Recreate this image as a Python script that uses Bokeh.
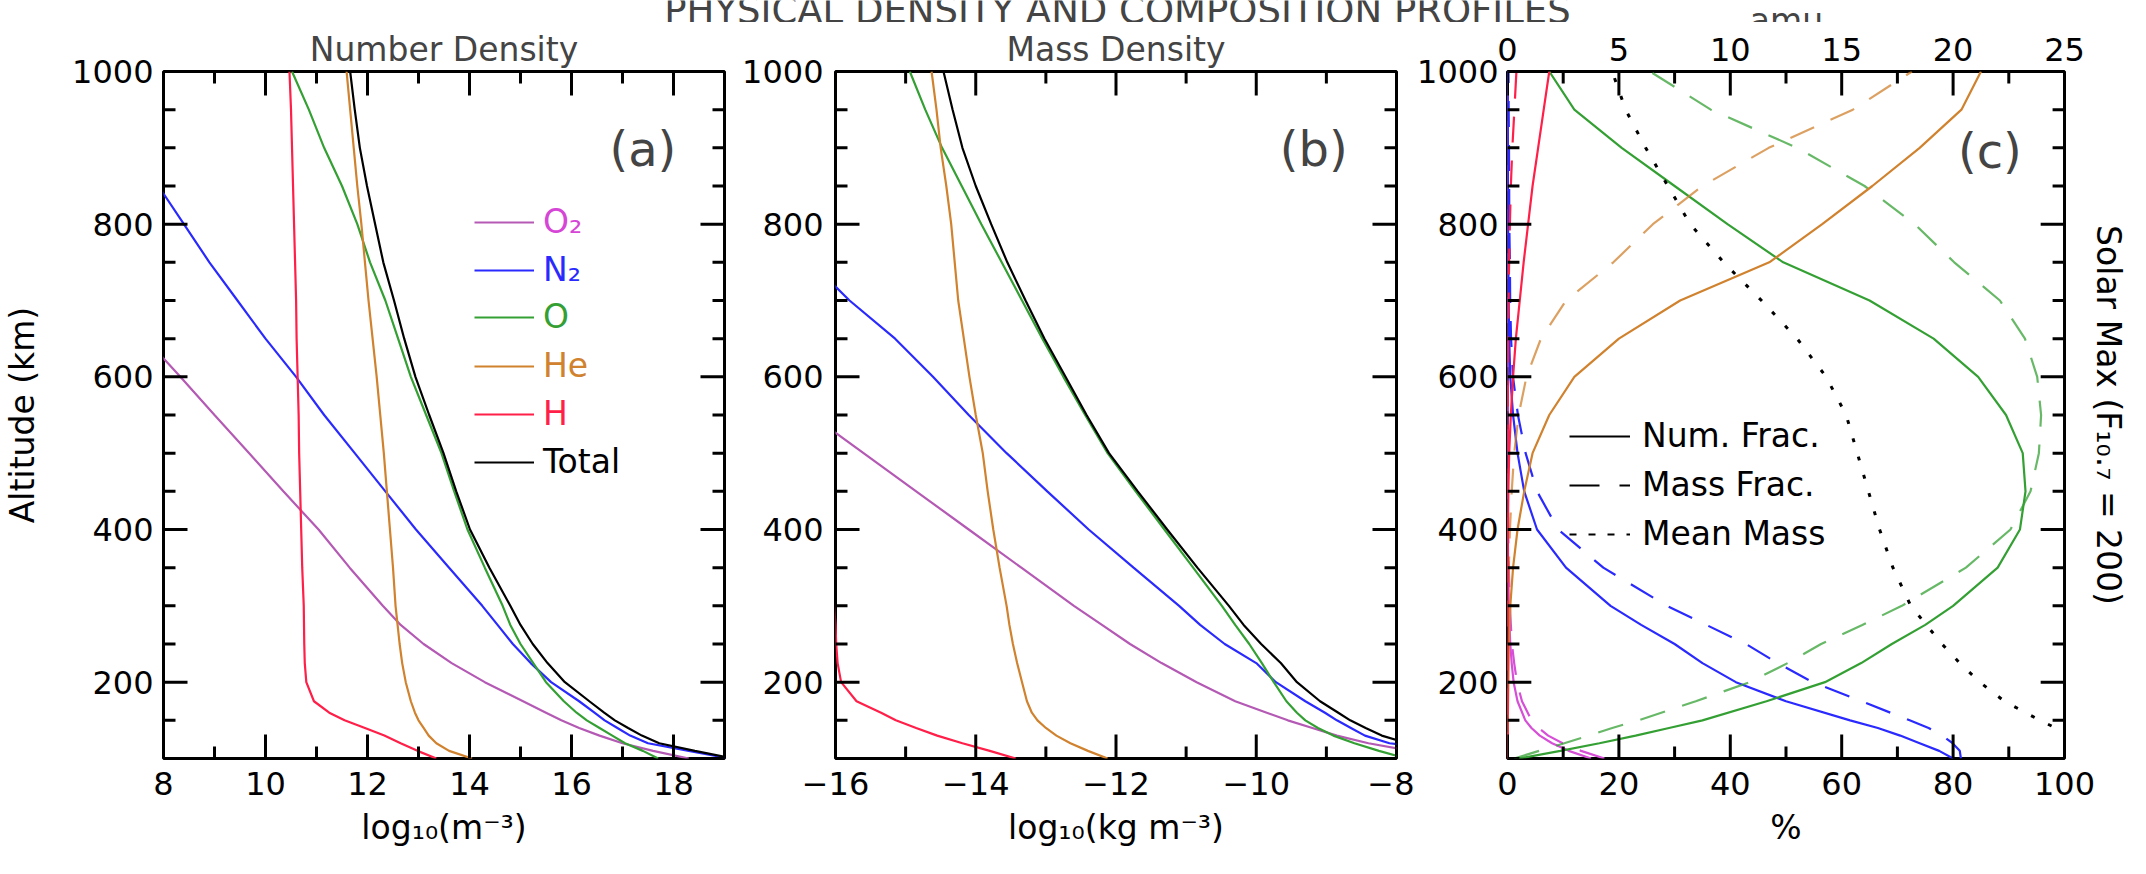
from bokeh.plotting import figure
from bokeh.models import Range1d, LinearAxis, FixedTicker, Legend, LegendItem, Label
from bokeh.layouts import column, row
from bokeh.embed import file_html
from bokeh.resources import INLINE

FONT = "DejaVu Sans"
FS = "33px"        # titles, axis labels, legend
FS_TICK = "32px"   # tick labels

# ---------------- data ----------------
alt_ab = [100, 110, 120, 130, 140, 150, 160, 175, 200, 225, 250, 275, 300, 350, 400,
          450, 500, 550, 600, 650, 700, 750, 800, 850, 900, 950, 1000]

# (a) log10 number density (m^-3)
o2_num = [18.3, 17.6, 17.0, 16.55, 16.15, 15.8, 15.5, 15.05, 14.3, 13.65, 13.1, 12.65, 12.3, 11.65, 11.04,
          10.35, 9.68, 9.0, 8.33, 7.65, 7.0, 6.35, 5.7, 5.1, 4.5, 3.9, 3.3]
n2_num = [19.1, 18.3, 17.5, 17.15, 16.9, 16.65, 16.45, 16.15, 15.6, 15.2, 14.85, 14.55, 14.25, 13.6, 12.95,
          12.35, 11.75, 11.15, 10.6, 10.0, 9.45, 8.9, 8.4, 7.9, 7.45, 7.0, 6.55]
o_num = [17.7, 17.4, 17.05, 16.8, 16.55, 16.3, 16.1, 15.85, 15.5, 15.25, 15.0, 14.8, 14.65, 14.3, 13.96,
         13.7, 13.45, 13.15, 12.85, 12.6, 12.35, 12.05, 11.8, 11.5, 11.15, 10.85, 10.52]
he_num = [14.05, 13.6, 13.35, 13.2, 13.1, 13.0, 12.93, 12.85, 12.75, 12.68, 12.63, 12.59, 12.55, 12.5, 12.44,
          12.38, 12.32, 12.25, 12.18, 12.1, 12.02, 11.95, 11.88, 11.8, 11.73, 11.66, 11.59]
h_num = [13.35, 12.98, 12.65, 12.33, 11.95, 11.55, 11.25, 10.95, 10.8, 10.77, 10.76, 10.755, 10.75, 10.72, 10.7,
         10.68, 10.66, 10.65, 10.63, 10.61, 10.6, 10.58, 10.56, 10.54, 10.52, 10.5, 10.47]
tot_num = [19.18, 18.42, 17.72, 17.38, 17.11, 16.85, 16.64, 16.35, 15.87, 15.53, 15.24, 15.0, 14.8, 14.39, 14.01,
           13.74, 13.49, 13.21, 12.94, 12.72, 12.52, 12.31, 12.15, 11.99, 11.85, 11.75, 11.66]

# (b) log10 mass density (kg m^-3)
o2_mass = [-7.1, -7.8, -8.4, -8.85, -9.2, -9.55, -9.85, -10.3, -10.85, -11.35, -11.8, -12.2, -12.6, -13.35, -14.1,
           -14.85, -15.6, -16.35, -17.1, -17.8, -18.5, -19.2, -19.9, -20.6, -21.3, -22.0, -22.7]
n2_mass = [-6.2, -7.2, -8.1, -8.45, -8.65, -8.85, -9.02, -9.3, -9.72, -10.0, -10.45, -10.8, -11.1, -11.75, -12.39,
           -12.98, -13.56, -14.1, -14.61, -15.15, -15.8, -16.35, -16.9, -17.4, -17.9, -18.35, -18.8]
o_mass = [-7.85, -8.25, -8.6, -8.9, -9.12, -9.3, -9.42, -9.57, -9.75, -9.92, -10.1, -10.3, -10.49, -10.9, -11.31,
          -11.72, -12.12, -12.44, -12.75, -13.05, -13.34, -13.63, -13.92, -14.2, -14.48, -14.72, -14.94]
he_mass = [-12.12, -12.4, -12.65, -12.85, -13.0, -13.12, -13.2, -13.27, -13.34, -13.41, -13.47, -13.52, -13.56, -13.66, -13.75,
           -13.83, -13.9, -14.0, -14.09, -14.17, -14.25, -14.3, -14.35, -14.42, -14.5, -14.56, -14.63]
h_mass = [-13.43, -13.8, -14.19, -14.55, -14.85, -15.14, -15.35, -15.7, -15.92, -15.97, -15.99, -16.0, -16.02, -16.05, -16.08,
          -16.1, -16.12, -16.14, -16.15, -16.17, -16.18, -16.2, -16.22, -16.24, -16.26, -16.28, -16.31]
tot_mass = [-6.14, -7.07, -7.84, -8.21, -8.44, -8.66, -8.83, -9.09, -9.42, -9.65, -9.93, -10.18, -10.39, -10.84, -11.27,
            -11.69, -12.1, -12.42, -12.72, -13.02, -13.29, -13.55, -13.78, -14.0, -14.19, -14.33, -14.46]

# (c) composition (%), mean mass (amu)
alt_c = [100, 110, 120, 130, 140, 150, 175, 200, 225, 250, 275, 300, 350, 400, 450, 500, 550,
         600, 650, 700, 750, 800, 850, 900, 950, 1000]
o2_nfrac = [15, 11, 8, 5.8, 4.3, 3.2, 1.8, 1.1, 0.75, 0.5, 0.35, 0.25, 0.12, 0.06, 0.03, 0.015, 0.01,
            0.01, 0.005, 0.005, 0.005, 0.005, 0.005, 0.005, 0.005, 0.005]
n2_nfrac = [80, 77.5, 74, 70.5, 66.5, 61.5, 50, 41, 35, 30, 24, 18.5, 10.5, 5.3, 3.0, 1.8, 1.0,
            0.5, 0.3, 0.2, 0.15, 0.1, 0.08, 0.06, 0.04, 0.03]
o_nfrac = [2, 9.5, 16.5, 23, 29, 35, 46.5, 57, 63.5, 69, 75, 80, 88, 92, 93, 92.5, 89.5,
           84.5, 76.5, 65, 49.5, 39.5, 30, 20.5, 12, 7.5]
he_nfrac = [0.01, 0.02, 0.03, 0.04, 0.05, 0.06, 0.1, 0.15, 0.2, 0.25, 0.35, 0.5, 1.0, 1.8, 3.0, 4.5, 7.5,
            12, 20, 31, 47, 56.5, 65.5, 74, 81.5, 85]
h_nfrac = [0.001, 0.001, 0.002, 0.002, 0.003, 0.003, 0.005, 0.01, 0.01, 0.015, 0.02, 0.02, 0.04, 0.08, 0.15, 0.3, 0.6,
           1.0, 1.5, 2.2, 2.9, 3.7, 4.5, 5.5, 6.5, 7.5]
o2_mfrac = [17.4, 13.2, 9.9, 7.3, 5.6, 4.3, 2.6, 1.7, 1.2, 0.8, 0.6, 0.44, 0.22, 0.12, 0.06, 0.03, 0.02,
            0.02, 0.01, 0.01, 0.01, 0.01, 0.01, 0.01, 0.01, 0.01]
n2_mfrac = [81.4, 81.2, 79.9, 78.1, 75.6, 72.2, 63.6, 54.8, 48.5, 42.8, 35.7, 28.6, 17.2, 9.1, 5.3, 3.25, 1.87,
            0.99, 0.64, 0.48, 0.43, 0.32, 0.3, 0.27, 0.21, 0.18]
o_mfrac = [1.2, 5.7, 10.2, 14.6, 18.8, 23.5, 33.8, 43.5, 50.3, 56.3, 63.7, 70.8, 82.3, 90.3, 93.9, 95.4, 95.8,
           95.1, 92.9, 88.4, 80.2, 73.1, 64.1, 52.0, 36.5, 25.6]
he_mfrac = [0.01, 0.01, 0.01, 0.01, 0.01, 0.01, 0.02, 0.03, 0.04, 0.05, 0.07, 0.11, 0.23, 0.44, 0.76, 1.2, 2.0,
            3.4, 6.0, 10.5, 19.0, 26.1, 35.0, 46.9, 62.0, 72.6]
h_mfrac = [0.0, 0.0, 0.0, 0.0, 0.0, 0.0, 0.0, 0.0, 0.0, 0.0, 0.0, 0.0, 0.0, 0.0, 0.01, 0.02, 0.04,
           0.07, 0.11, 0.19, 0.29, 0.43, 0.6, 0.87, 1.24, 1.6]
mean_mass = [27.5, 26.7, 25.9, 25.3, 24.6, 23.9, 22.3, 21.2, 20.3, 19.5, 18.8, 18.1, 17.3, 16.7, 16.2, 15.7, 15.2,
             14.3, 13.0, 11.4, 9.7, 8.2, 7.2, 6.2, 5.3, 4.7]

species = ["O₂", "N₂", "O", "He", "H", "Total"]
line_colors = ["#b45ab4", "#2a2aff", "#34a034", "#d0822e", "#ff1f48", "#000000"]
text_colors = ["#d646d6", "#2a2aff", "#34a034", "#d0822e", "#ff1f48", "#000000"]
frac_colors = ["#d64fd6", "#2a2aff", "#34a034", "#d0822e", "#ff1f48"]

# tick values
a_major = [8, 10, 12, 14, 16, 18]
a_minor = [9, 11, 13, 15, 17, 19]
b_major = [-16, -14, -12, -10, -8]
b_minor = [-15, -13, -11, -9]
c_major = [0, 20, 40, 60, 80, 100]
c_minor = [10, 30, 50, 70, 90]
amu_major = [0, 5, 10, 15, 20, 25]
amu_minor = [2.5, 7.5, 12.5, 17.5, 22.5]
alt_major = [200, 400, 600, 800, 1000]
alt_minor = [100, 150, 250, 300, 350, 450, 500, 550, 650, 700, 750, 850, 900, 950]

# ---------------- layout constants ----------------
PH = 836
TOP, BOT = 49, 100
FW, FH = 561, 687          # frame size in px
YMIN, YMAX = 100, 1000
TMAJ, TMIN = 24, 12        # inward tick lengths in px
TICK_W = 3
NAN = float("nan")


def label_axis(ticks, label=None, tick_standoff=10, label_standoff=0, x_range_name=None):
    kw = {} if x_range_name is None else {"x_range_name": x_range_name}
    ax = LinearAxis(ticker=FixedTicker(ticks=ticks, minor_ticks=[]), **kw)
    ax.axis_line_color = None
    ax.major_tick_line_color = None
    ax.minor_tick_line_color = None
    ax.major_tick_in = 0
    ax.major_tick_out = 0
    ax.minor_tick_in = 0
    ax.minor_tick_out = 0
    ax.major_label_standoff = tick_standoff
    ax.major_label_text_font = FONT
    ax.major_label_text_font_size = FS_TICK
    ax.major_label_text_color = "black"
    if label is not None:
        ax.axis_label = label
        ax.axis_label_text_font = FONT
        ax.axis_label_text_font_size = FS
        ax.axis_label_text_font_style = "normal"
        ax.axis_label_text_color = "black"
        ax.axis_label_standoff = label_standoff
    return ax


def make_panel(width, left, right, xr, title):
    p = figure(width=width, height=PH, x_range=xr, y_range=Range1d(YMIN, YMAX),
               output_backend="svg", toolbar_location=None, title=title,
               x_axis_location=None, y_axis_location=None,
               min_border_left=left, min_border_right=right,
               min_border_top=TOP, min_border_bottom=BOT)
    p.grid.grid_line_color = None
    p.outline_line_color = "black"
    p.outline_line_width = 3
    p.background_fill_color = "white"
    p.border_fill_color = "white"
    if title is not None:
        p.title.align = "center"
        p.title.text_font = FONT
        p.title.text_font_size = FS
        p.title.text_font_style = "normal"
        p.title.standoff = 6
    return p


def vticks(p, xs, y_edge, direction, length_px, **kw):
    # one broken line (NaN separated) holding every tick of one side
    dy = (YMAX - YMIN) / FH * length_px * direction
    lx, ly = [], []
    for x in xs:
        lx += [x, x, NAN]
        ly += [y_edge, y_edge + dy, NAN]
    p.line(lx, ly, line_color="black", line_width=TICK_W, **kw)


def hticks(p, ys, x_edge, direction, length_px, x0, x1):
    dx = (x1 - x0) / FW * length_px * direction
    lx, ly = [], []
    for y in ys:
        lx += [x_edge, x_edge + dx, NAN]
        ly += [y, y, NAN]
    p.line(lx, ly, line_color="black", line_width=TICK_W)


def frame_ticks(p, x0, x1, xmajor, xminor, top_major=None, top_minor=None, top_range=None):
    vticks(p, xmajor, YMIN, 1, TMAJ)
    vticks(p, xminor, YMIN, 1, TMIN)
    if top_major is None:
        vticks(p, xmajor, YMAX, -1, TMAJ)
        vticks(p, xminor, YMAX, -1, TMIN)
    else:
        vticks(p, top_major, YMAX, -1, TMAJ, x_range_name=top_range)
        vticks(p, top_minor, YMAX, -1, TMIN, x_range_name=top_range)
    hticks(p, alt_major, x0, 1, TMAJ, x0, x1)
    hticks(p, alt_minor, x0, 1, TMIN, x0, x1)
    hticks(p, alt_major, x1, -1, TMAJ, x0, x1)
    hticks(p, alt_minor, x1, -1, TMIN, x0, x1)


def single_legends(p, renderers, names, colors, rows, x_off):
    for name, r, tc, yc in zip(names, renderers, colors, rows):
        lg = Legend(items=[LegendItem(label=name, renderers=[r])],
                    location=(x_off, 766 - yc - 27), padding=0, margin=0, spacing=0,
                    glyph_width=60, glyph_height=38, label_height=38, label_standoff=9,
                    label_text_font=FONT, label_text_font_size=FS, label_text_color=tc,
                    border_line_color=None, background_fill_alpha=0)
        p.add_layout(lg)


# ---------------- panel (a) ----------------
pa = make_panel(732, 163, 8, Range1d(8, 19), "Number Density")
pa.add_layout(label_axis(a_major, label="log₁₀(m⁻³)", tick_standoff=13, label_standoff=10), "below")
pa.add_layout(label_axis(alt_major, label="Altitude (km)", tick_standoff=10, label_standoff=27), "left")

ra = []
for vals, col in zip([o2_num, n2_num, o_num, he_num, h_num, tot_num], line_colors):
    ra.append(pa.line(vals, alt_ab, line_color=col, line_width=2.2))
frame_ticks(pa, 8, 19, a_major, a_minor)
single_legends(pa, ra, species, text_colors, [222, 270, 317, 366, 414, 462], 311)
pa.add_layout(Label(x=17.4, y=898, text="(a)", text_align="center", text_baseline="middle",
                    text_font=FONT, text_font_size="48px"))

# ---------------- panel (b) ----------------
pb = make_panel(682, 103, 18, Range1d(-16, -8), "Mass Density")
pb.add_layout(label_axis(b_major, label="log₁₀(kg m⁻³)", tick_standoff=13, label_standoff=10), "below")
pb.add_layout(label_axis(alt_major, tick_standoff=12), "left")
for vals, col in zip([o2_mass, n2_mass, o_mass, he_mass, h_mass, tot_mass], line_colors):
    pb.line(vals, alt_ab, line_color=col, line_width=2.2)
frame_ticks(pb, -16, -8, b_major, b_minor)
pb.add_layout(Label(x=-9.18, y=898, text="(b)", text_align="center", text_baseline="middle",
                    text_font=FONT, text_font_size="48px"))

# ---------------- panel (c) ----------------
pc = make_panel(716, 91, 64, Range1d(0, 100), None)
pc.extra_x_ranges = {"amu": Range1d(0, 25)}
pc.add_layout(label_axis(c_major, label="%", tick_standoff=13, label_standoff=10), "below")
pc.add_layout(label_axis(amu_major, tick_standoff=11, x_range_name="amu"), "above")
pc.add_layout(label_axis(alt_major, tick_standoff=9), "left")
pc.add_layout(label_axis([], label="Solar Max (F₁₀.₇ = 200)", tick_standoff=0, label_standoff=24), "right")

DASH = "26 18"
num_sets = [o2_nfrac, n2_nfrac, o_nfrac, he_nfrac, h_nfrac]
mass_sets = [o2_mfrac, n2_mfrac, o_mfrac, he_mfrac, h_mfrac]
dash_alpha = [1.0, 1.0, 0.75, 0.75, 1.0]
for nf, mf, col, da in zip(num_sets, mass_sets, frac_colors, dash_alpha):
    pc.line(mf, alt_c, line_color=col, line_width=2.2, line_dash=DASH, line_alpha=da)
    pc.line(nf, alt_c, line_color=col, line_width=2.2)
pc.line(mean_mass, alt_c, x_range_name="amu", line_color="black", line_width=3, line_dash="4 15")
frame_ticks(pc, 0, 100, c_major, c_minor, top_major=amu_major, top_minor=amu_minor, top_range="amu")

l_num = pc.line([NAN], [NAN], line_color="black", line_width=2.2)
l_mass = pc.line([NAN], [NAN], line_color="black", line_width=2.2, line_dash="30 20")
l_mean = pc.line([NAN], [NAN], line_color="black", line_width=2.2, line_dash="7 12")
lgc = Legend(items=[LegendItem(label="Num. Frac.", renderers=[l_num]),
                    LegendItem(label="Mass Frac.", renderers=[l_mass]),
                    LegendItem(label="Mean Mass", renderers=[l_mean])],
             location=(62, 766 - 534 - 27), padding=0, margin=0, spacing=10,
             glyph_width=61, glyph_height=38, label_height=38, label_standoff=12,
             label_text_font=FONT, label_text_font_size=FS, label_text_color="black",
             border_line_color=None, background_fill_alpha=0)
pc.add_layout(lgc)
pc.add_layout(Label(x=86.6, y=896, text="(c)", text_align="center", text_baseline="middle",
                    text_font=FONT, text_font_size="48px"))

# ---------------- top strip (clipped title + amu label) ----------------
strip = figure(width=2130, height=22, x_range=Range1d(0, 2130), y_range=Range1d(0, 22),
               output_backend="svg", toolbar_location=None, x_axis_location=None,
               y_axis_location=None, min_border=0)
strip.outline_line_color = None
strip.grid.grid_line_color = None
strip.add_layout(Label(x=1117, y=12, text="PHYSICAL DENSITY AND COMPOSITION PROFILES",
                       text_align="center", text_baseline="alphabetic",
                       text_font=FONT, text_font_size="37px"))
strip.add_layout(Label(x=1786, y=2, text="amu", text_align="center", text_baseline="alphabetic",
                       text_font=FONT, text_font_size=FS))

layout = column(strip, row(pa, pb, pc))
open("out.html", "w").write(file_html(layout, INLINE))
